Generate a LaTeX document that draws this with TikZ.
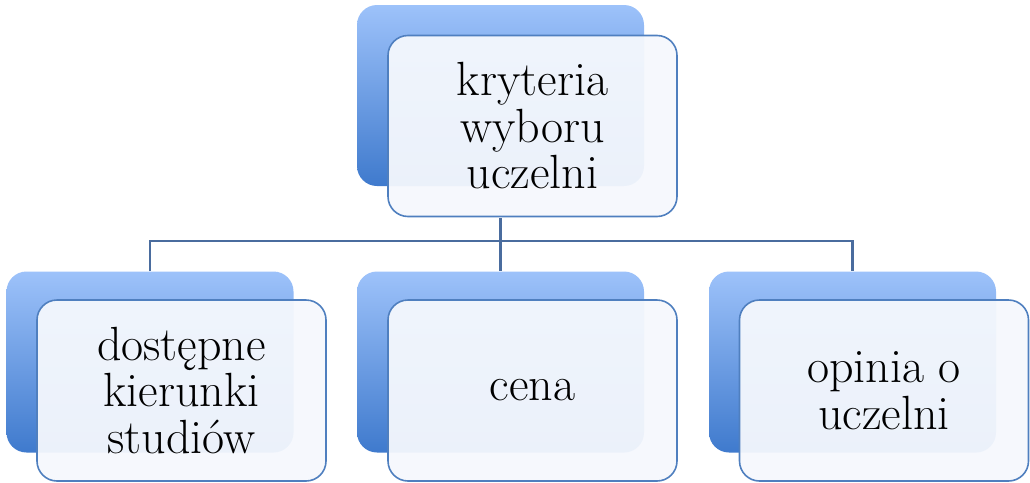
\documentclass[tikz,border=0pt]{standalone}
\usepackage{fontspec}
\definecolor{backtop}{HTML}{9DC2FA}
\definecolor{backbot}{HTML}{3F7ACD}
\definecolor{frontfill}{HTML}{F5F8FD}
\definecolor{frontline}{HTML}{4F7FBF}
\definecolor{linkcol}{HTML}{4A6C9E}
\tikzset{
  backbox/.style={rectangle, rounded corners=20pt, minimum width=287pt, minimum height=181pt,
    top color=backtop, bottom color=backbot, draw=none, inner sep=0pt},
  frontbox/.style={rectangle, rounded corners=20pt, minimum width=289pt, minimum height=181pt,
    fill=frontfill, fill opacity=0.95, text opacity=1, draw=frontline, line width=1.6pt,
    align=center, inner sep=0pt, font=\fontsize{48}{46.5}\selectfont},
  link/.style={draw=linkcol, line width=2.2pt}
}
\begin{document}
\begin{tikzpicture}[x=1pt,y=-1pt]
\useasboundingbox (0,0) rectangle (1030,482);
% back panels
\node[backbox] (rootb) at (500.5,95.5) {};
\node[backbox] (leftb) at (150,362) {};
\node[backbox] (midb) at (500.5,362) {};
\node[backbox] (rightb) at (852.5,362) {};
% bus line of the tree
\coordinate (bus) at (500.5,241);
\coordinate (rootfoot) at (500.5,218);
\draw[link] (rootfoot) -- (midb.north);
\draw[link] (leftb.north) |- (bus) -| (rightb.north);
% front panels with labels
\node[frontbox] (root) at (532.5,126) {kryteria\\wyboru\\uczelni};
\node[frontbox] (left) at (181.5,390.5) {dostępne\\kierunki\\studiów};
\node[frontbox] (mid) at (532.5,390.5) {cena};
\node[frontbox] (right) at (884,390.5) {opinia o\\uczelni};
\end{tikzpicture}
\end{document}
